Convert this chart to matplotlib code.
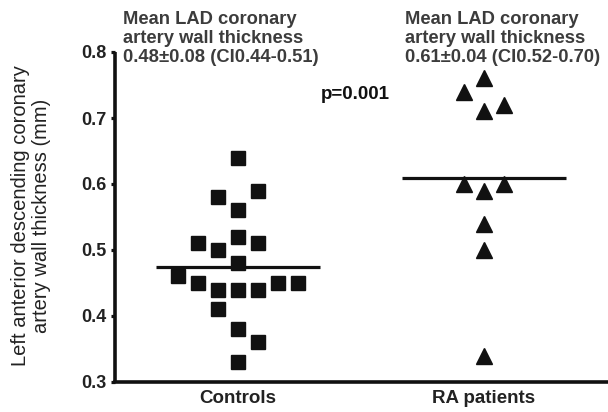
import numpy as np
from matplotlib import pyplot as plt

plt.rcParams['font.family'] = ['Liberation Sans', 'DejaVu Sans']

# data
groups = ['Controls', 'RA patients']
controls = [0.64, 0.59, 0.58, 0.56, 0.52, 0.51, 0.51, 0.50, 0.48, 0.46,
            0.45, 0.44, 0.44, 0.44, 0.45, 0.45, 0.41, 0.38, 0.36, 0.33]
controls_col = [0, 1, -1, 0, 0, -2, 1, -1, 0, -3,
                -2, -1, 0, 1, 2, 3, -1, 0, 1, 0]
ra = [0.76, 0.74, 0.72, 0.71, 0.60, 0.60, 0.59, 0.54, 0.50, 0.34]
ra_col = [0, -1, 1, 0, -1, 1, 0, 0, 0, 0]
group_means = [0.474, 0.609]
yticks = [0.3, 0.4, 0.5, 0.6, 0.7, 0.8]
notes = ['Mean LAD coronary\nartery wall thickness\n0.48\u00b10.08 (CI0.44-0.51)',
         'Mean LAD coronary\nartery wall thickness\n0.61\u00b10.04 (CI0.52-0.70)']
p_text = 'p=0.001'

spacing = 0.081

fig = plt.figure(figsize=(6.08, 4.12), dpi=100)
ax = fig.add_axes([115/608, 1-382/412, 492/608, 330/412])

x_c = 1 + np.array(controls_col) * spacing
x_r = 2 + np.array(ra_col) * spacing
ax.plot(x_c, controls, 's', color='#111111', markersize=9.5, ls='none', clip_on=False)
ax.plot(x_r, ra, '^', color='#111111', markersize=11.5, ls='none', clip_on=False)

for i, m in enumerate(group_means):
    ax.plot([i + 1 - 0.335, i + 1 + 0.335], [m, m], color='#111111', lw=2.3,
            solid_capstyle='butt')

ax.set_xlim(0.5, 2.5)
ax.set_ylim(0.3, 0.8)
ax.set_xticks([1, 2])
ax.set_xticklabels(groups, fontsize=13.5, fontweight='bold', color='#222222')
ax.set_yticks(yticks)
ax.set_yticklabels(['%.1f' % v for v in yticks], fontsize=13, fontweight='bold',
                   color='#222222')
ax.tick_params(axis='x', length=0, pad=6)
ax.tick_params(axis='y', length=3, width=2.3, pad=3, color='#111111')
for s in ['top', 'right']:
    ax.spines[s].set_visible(False)
for s in ['left', 'bottom']:
    ax.spines[s].set_linewidth(2.6)
    ax.spines[s].set_color('#111111')
ax.spines['left'].set_capstyle('butt')

ax.text(0.533, 0.862, notes[0], ha='left', va='top', fontsize=13.2, fontweight='bold',
        color='#3c3c3c', linespacing=1.14, clip_on=False)
ax.text(1.679, 0.862, notes[1], ha='left', va='top', fontsize=13.2, fontweight='bold',
        color='#3c3c3c', linespacing=1.14, clip_on=False)
ax.text(1.476, 0.735, p_text, ha='center', va='center', fontsize=13.5,
        fontweight='bold', color='#111111')

fig.text(31/608, 1-216/412,
         'Left anterior descending coronary\nartery wall thickness (mm)',
         rotation=90, ha='center', va='center', multialignment='center',
         fontsize=14.5, color='#222222', linespacing=1.1)

fig.savefig('out.png', dpi=100)
